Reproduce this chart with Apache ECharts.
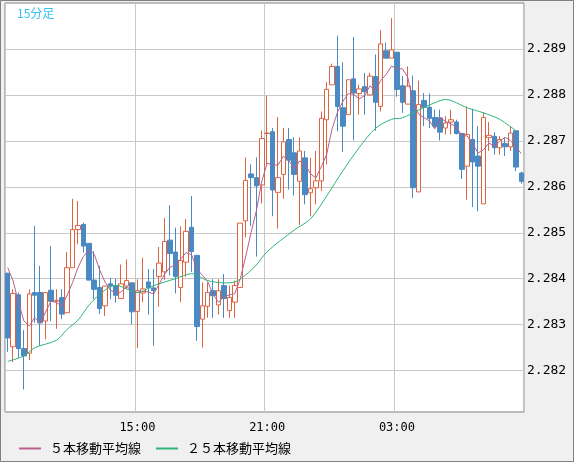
<!DOCTYPE html>
<html><head><meta charset="utf-8">
<script src="https://cdn.jsdelivr.net/npm/echarts@6/dist/echarts.min.js"></script>
<style>html,body{margin:0;padding:0;background:#f0f0f0}#c{width:574px;height:462px}</style>
</head><body><div id="c"></div>
<script>
const priorCloses = [2.28513, 2.28483, 2.28432, 2.28421];
const openV = [2.28412,2.28252,2.28365,2.28248,2.28238,2.28370,2.28370,2.28308,2.28375,2.28351,2.28359,2.28326,2.28424,2.28507,2.28518,2.28477,2.28397,2.28381,2.28341,2.28389,2.28384,2.28357,2.28384,2.28391,
2.28329,2.28369,2.28393,2.28380,2.28405,2.28415,2.28484,2.28458,2.28381,2.28436,2.28512,2.28451,2.28312,2.28340,2.28374,2.28343,2.28385,2.28331,2.28349,2.28381,2.28526,2.28628,2.28620,2.28604,2.28716,
2.28720,2.28588,2.28627,2.28703,2.28674,2.28612,2.28663,2.28587,2.28598,2.28613,2.28746,2.28822,2.28862,2.28772,2.28757,2.28835,2.28803,2.28818,2.28800,2.28840,2.28775,2.28896,2.28880,2.28893,
2.28820,2.28780,2.28809,2.28589,2.28788,2.28773,2.28751,2.28750,2.28728,2.28741,2.28741,2.28716,2.28645,2.28703,2.28667,2.28563,2.28707,2.28710,2.28685,2.28694,2.28687,2.28722,2.28630];
const closeV = [2.28271,2.28368,2.28248,2.28232,2.28367,2.28364,2.28304,2.28370,2.28351,2.28353,2.28323,2.28424,2.28507,2.28516,2.28471,2.28397,2.28377,2.28335,2.28384,2.28384,2.28364,2.28389,2.28396,2.28328,
2.28374,2.28378,2.28380,2.28374,2.28434,2.28481,2.28455,2.28405,2.28440,2.28503,2.28459,2.28296,2.28341,2.28370,2.28363,2.28374,2.28357,2.28359,2.28385,2.28521,2.28614,2.28620,2.28602,2.28705,2.28717,
2.28593,2.28620,2.28698,2.28658,2.28627,2.28678,2.28583,2.28596,2.28613,2.28749,2.28812,2.28862,2.28775,2.28732,2.28833,2.28804,2.28813,2.28807,2.28841,2.28784,2.28911,2.28880,2.28898,2.28812,
2.28784,2.28819,2.28598,2.28779,2.28773,2.28749,2.28732,2.28719,2.28739,2.28746,2.28716,2.28638,2.28714,2.28654,2.28645,2.28751,2.28712,2.28685,2.28703,2.28687,2.28717,2.28643,2.28612];
const lowV = [2.28241,2.28219,2.28228,2.28159,2.28223,2.28304,2.28254,2.28268,2.28308,2.28291,2.28312,2.28326,2.28424,2.28475,2.28457,2.28397,2.28355,2.28323,2.28319,2.28355,2.28348,2.28357,2.28377,2.28301,
2.28249,2.28349,2.28322,2.28254,2.28339,2.28397,2.28407,2.28368,2.28349,2.28404,2.28415,2.28265,2.28250,2.28315,2.28315,2.28322,2.28315,2.28315,2.28315,2.28381,2.28490,2.28515,2.28448,2.28564,2.28649,
2.28536,2.28509,2.28574,2.28594,2.28581,2.28517,2.28562,2.28536,2.28562,2.28591,2.28649,2.28822,2.28721,2.28676,2.28757,2.28701,2.28757,2.28757,2.28800,2.28722,2.28764,2.28880,2.28880,2.28796,
2.28761,2.28780,2.28576,2.28589,2.28732,2.28728,2.28728,2.28701,2.28714,2.28714,2.28714,2.28617,2.28572,2.28556,2.28547,2.28563,2.28678,2.28670,2.28670,2.28667,2.28678,2.28634,2.28607];
const highV = [2.28413,2.28377,2.28370,2.28288,2.28377,2.28515,2.28428,2.28370,2.28471,2.28377,2.28377,2.28458,2.28574,2.28569,2.28522,2.28477,2.28460,2.28428,2.28384,2.28402,2.28400,2.28431,2.28442,2.28391,
2.28399,2.28446,2.28421,2.28421,2.28469,2.28532,2.28560,2.28511,2.28514,2.28530,2.28580,2.28451,2.28392,2.28392,2.28399,2.28399,2.28410,2.28385,2.28396,2.28521,2.28664,2.28649,2.28664,2.28722,2.28798,
2.28728,2.28752,2.28728,2.28728,2.28708,2.28708,2.28678,2.28663,2.28678,2.28764,2.28828,2.28868,2.28929,2.28871,2.28833,2.28926,2.28822,2.28848,2.28848,2.28888,2.28941,2.28914,2.28967,2.28893,
2.28841,2.28862,2.28842,2.28831,2.28804,2.28803,2.28768,2.28768,2.28754,2.28768,2.28746,2.28716,2.28775,2.28770,2.28732,2.28762,2.28741,2.28719,2.28710,2.28707,2.28732,2.28722,2.28633];
const ma25Idx = [0,3,5,9,11,13,15,17,19,20,22,24,27,31,34,37,40,42,44,46,48,53,56,59,62,65,68,71,73,76,79,81,85,88,91,94];
const ma25Val = [2.28220,2.28232,2.28250,2.28266,2.28290,2.28310,2.28342,2.28366,2.28383,2.28386,2.28378,2.28370,2.28385,2.28400,2.28411,2.28396,2.28391,2.28393,2.28408,2.28430,2.28459,2.28506,2.28530,2.28580,2.28635,2.28685,2.28727,2.28747,2.28750,2.28767,2.28783,2.28790,2.28772,2.28761,2.28747,2.28722];
const yTicks = [2.282,2.283,2.284,2.285,2.286,2.287,2.288,2.289];
const xLabelMap = {24:'15:00',48:'21:00',72:'03:00'};
const startHour = 9;

const cats = [];
for (let i = 0; i < openV.length; i++) {
  const m = startHour*60 + i*15; const h = Math.floor(m/60)%24, mm = m%60;
  cats.push(String(h).padStart(2,'0')+':'+String(mm).padStart(2,'0'));
}
const kData = openV.map((o,i)=>[o, closeV[i], lowV[i], highV[i]]);
const allC = priorCloses.concat(closeV);
const ma5 = closeV.map((c,i)=>{let s=0;for(let k=i;k<i+5;k++)s+=allC[k];return +(s/5).toFixed(6);});
const ma25 = cats.map(()=>null);
ma25Idx.forEach((ix,k)=>{ma25[ix]=ma25Val[k];});

const chart = echarts.init(document.getElementById('c'));
chart.setOption({
  backgroundColor:'#f0f0f0',
  animation:false,
  title:{text:'15分足',left:12,top:2,textStyle:{color:'#33bff0',fontSize:12,fontWeight:'normal',fontFamily:'Noto Sans CJK JP'}},
  legend:{left:14,top:437,itemWidth:22,itemHeight:2,itemGap:15,icon:'rect',
    textStyle:{fontFamily:'Noto Sans CJK JP',fontSize:13,color:'#000',padding:[0,0,0,4]},
    data:['５本移動平均線','２５本移動平均線']},
  graphic:[{type:'rect',shape:{x:0.5,y:0.5,width:573,height:461},style:{fill:'none',stroke:'#808080',lineWidth:1},silent:true}],
  grid:{left:5,top:3,right:50,bottom:50,show:true,backgroundColor:'#fff',borderColor:'#808080',borderWidth:1},
  xAxis:{type:'category',data:cats,boundaryGap:true,
    axisLine:{show:false},
    axisTick:{show:false,alignWithLabel:true,interval:(i)=>i%24===0},
    splitLine:{show:true,interval:(i)=>i%24===0,lineStyle:{color:'#c8c8c8'}},
    axisLabel:{interval:0,formatter:(v,i)=>xLabelMap[i]||'',fontFamily:'DejaVu Sans Mono',fontSize:12,color:'#000',margin:10}},
  yAxis:{type:'value',position:'right',min:2.2811,max:2.29,scale:true,
    axisLine:{show:false},
    axisTick:{show:false,customValues:yTicks},
    splitLine:{show:true,lineStyle:{color:'#c8c8c8'}},
    axisLabel:{customValues:yTicks,formatter:(v)=>v.toFixed(3),fontFamily:'DejaVu Sans Mono',fontSize:13,color:'#000',margin:3}},
  series:[
    {type:'candlestick',data:kData,barWidth:5,
      itemStyle:{color:'#ffffff',color0:'#4a89c1',borderColor:'#dd6440',borderColor0:'#4a89c1',borderWidth:1}},
    {name:'５本移動平均線',type:'line',data:ma5,showSymbol:false,symbol:'none',lineStyle:{color:'#b8608e',width:1},itemStyle:{color:'#b8608e'}},
    {name:'２５本移動平均線',type:'line',data:ma25,connectNulls:true,showSymbol:false,symbol:'none',smooth:0.3,lineStyle:{color:'#2eb57a',width:1},itemStyle:{color:'#2eb57a'}}
  ]
});
</script></body></html>
